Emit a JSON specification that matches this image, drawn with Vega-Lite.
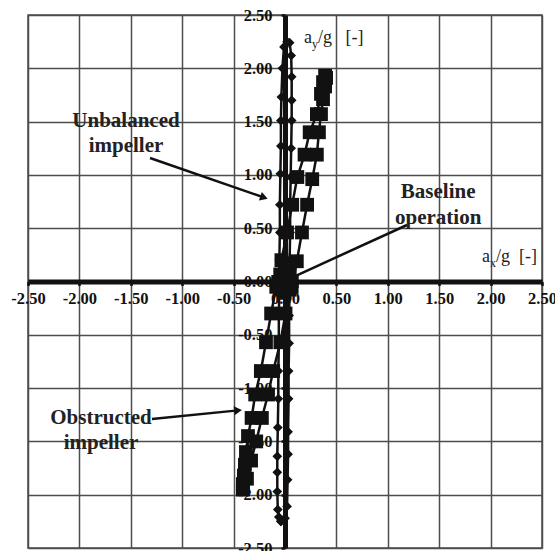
{
  "$schema": "https://vega.github.io/schema/vega-lite/v6.json",
  "width": 514,
  "height": 533,
  "autosize": {"type": "none"},
  "padding": {"left": 28, "top": 15, "right": 13, "bottom": 3},
  "background": "white",
  "config": {
    "view": {"stroke": "#4d4d4d", "strokeWidth": 1.5},
    "axis": {
      "labelFont": "Liberation Serif",
      "labelFontWeight": "bold",
      "labelFontSize": 16.5,
      "labelColor": "#111111",
      "tickColor": "#111111",
      "tickSize": 4,
      "tickWidth": 2.5,
      "domainColor": "#111111",
      "domainWidth": 5,
      "gridColor": "#4d4d4d",
      "gridWidth": 1.5,
      "gridOpacity": 1,
      "labelFlush": false,
      "labelOverlap": false,
      "labelBound": false,
      "title": null
    }
  },
  "datasets": {
    "unbal": [
      {"k":1,"x":-0.04,"y":-2.25},{"k":2,"x":0.0,"y":-2.22},{"k":3,"x":0.02,"y":-2.11},{"k":4,"x":0.025,"y":-1.86},
      {"k":5,"x":0.03,"y":-1.62},{"k":6,"x":0.03,"y":-1.41},{"k":7,"x":0.035,"y":-1.1},{"k":8,"x":0.035,"y":-0.84},
      {"k":9,"x":0.04,"y":-0.58},{"k":10,"x":0.04,"y":-0.32},{"k":11,"x":0.045,"y":-0.06},{"k":12,"x":0.045,"y":0.2},
      {"k":13,"x":0.05,"y":0.46},{"k":14,"x":0.05,"y":0.72},{"k":15,"x":0.055,"y":0.98},{"k":16,"x":0.06,"y":1.25},
      {"k":17,"x":0.065,"y":1.51},{"k":18,"x":0.065,"y":1.7},{"k":19,"x":0.065,"y":1.92},{"k":20,"x":0.06,"y":2.12},
      {"k":21,"x":0.045,"y":2.24},{"k":22,"x":0.02,"y":2.25},{"k":23,"x":-0.01,"y":2.2},{"k":24,"x":-0.025,"y":2.0},
      {"k":25,"x":-0.035,"y":1.73},{"k":26,"x":-0.04,"y":1.51},{"k":27,"x":-0.04,"y":1.27},{"k":28,"x":-0.045,"y":1.01},
      {"k":29,"x":-0.05,"y":0.72},{"k":30,"x":-0.05,"y":0.46},{"k":31,"x":-0.055,"y":0.2},{"k":32,"x":-0.055,"y":-0.06},
      {"k":33,"x":-0.06,"y":-0.32},{"k":34,"x":-0.06,"y":-0.58},{"k":35,"x":-0.065,"y":-0.84},{"k":36,"x":-0.065,"y":-1.1},
      {"k":37,"x":-0.07,"y":-1.37},{"k":38,"x":-0.075,"y":-1.64},{"k":39,"x":-0.075,"y":-1.79},{"k":40,"x":-0.075,"y":-1.97},
      {"k":41,"x":-0.07,"y":-2.14},{"k":42,"x":-0.06,"y":-2.21},{"k":43,"x":-0.04,"y":-2.25}
    ],
    "obst": [
      {"k":1,"x":-0.41,"y":-1.95},{"k":2,"x":-0.37,"y":-1.85},{"k":3,"x":-0.33,"y":-1.68},{"k":4,"x":-0.28,"y":-1.5},
      {"k":5,"x":-0.225,"y":-1.28},{"k":6,"x":-0.165,"y":-1.06},{"k":7,"x":-0.115,"y":-0.84},{"k":8,"x":-0.045,"y":-0.57},
      {"k":9,"x":0.005,"y":-0.3},{"k":10,"x":0.065,"y":-0.05},{"k":11,"x":0.115,"y":0.19},{"k":12,"x":0.165,"y":0.46},
      {"k":13,"x":0.215,"y":0.72},{"k":14,"x":0.265,"y":0.96},{"k":15,"x":0.31,"y":1.19},{"k":16,"x":0.33,"y":1.4},
      {"k":17,"x":0.35,"y":1.57},{"k":18,"x":0.37,"y":1.71},{"k":19,"x":0.39,"y":1.83},{"k":20,"x":0.4,"y":1.91},
      {"k":21,"x":0.39,"y":1.93},{"k":22,"x":0.37,"y":1.87},{"k":23,"x":0.35,"y":1.76},{"k":24,"x":0.31,"y":1.57},
      {"k":25,"x":0.24,"y":1.4},{"k":26,"x":0.19,"y":1.19},{"k":27,"x":0.12,"y":0.98},{"k":28,"x":0.07,"y":0.72},
      {"k":29,"x":0.02,"y":0.46},{"k":30,"x":-0.035,"y":0.2},{"k":31,"x":-0.085,"y":-0.05},{"k":32,"x":-0.135,"y":-0.3},
      {"k":33,"x":-0.185,"y":-0.57},{"k":34,"x":-0.235,"y":-0.84},{"k":35,"x":-0.29,"y":-1.06},{"k":36,"x":-0.325,"y":-1.28},
      {"k":37,"x":-0.36,"y":-1.45},{"k":38,"x":-0.38,"y":-1.6},{"k":39,"x":-0.39,"y":-1.72},{"k":40,"x":-0.4,"y":-1.82},
      {"k":41,"x":-0.41,"y":-1.9},{"k":42,"x":-0.41,"y":-1.95}
    ],
    "base": [
      {"k":1,"x":0.0,"y":0.1},{"k":2,"x":0.05,"y":0.07},{"k":3,"x":0.07,"y":0.0},{"k":4,"x":0.05,"y":-0.08},
      {"k":5,"x":0.0,"y":-0.11},{"k":6,"x":-0.05,"y":-0.08},{"k":7,"x":-0.07,"y":0.0},{"k":8,"x":-0.05,"y":0.07},
      {"k":9,"x":0.0,"y":0.1}
    ],
    "notes": [
      {"x":-1.547,"y":1.506,"t":"Unbalanced"},{"x":-1.547,"y":1.27,"t":"impeller"},
      {"x":1.49,"y":0.84,"t":"Baseline"},{"x":1.49,"y":0.6,"t":"operation"},
      {"x":-1.79,"y":-1.28,"t":"Obstructed"},{"x":-1.79,"y":-1.515,"t":"impeller"}
    ],
    "titleA": [{"x":1.916,"y":0.23,"t":"a"},{"x":0.185,"y":2.284,"t":"a"}],
    "titleSub": [{"x":1.916,"y":0.23,"t":"x"},{"x":0.185,"y":2.284,"t":"y"}],
    "titleRest": [{"x":1.916,"y":0.23,"t":"/g\u00a0\u00a0[-]"},{"x":0.185,"y":2.284,"t":"/g\u00a0\u00a0\u00a0[-]"}],
    "arrows": [
      {"x":-1.313,"y":1.159,"x2":-0.204,"y2":0.788},
      {"x":1.187,"y":0.53,"x2":0.078,"y2":0.042},
      {"x":-1.294,"y":-1.29,"x2":-0.457,"y2":-1.209}
    ],
    "head1": [{"x":-0.204,"y":0.788}],
    "head3": [{"x":-0.457,"y":-1.209}]
  },
  "encoding": {
    "x": {
      "field": "x", "type": "quantitative",
      "scale": {"domain": [-2.5, 2.5], "nice": false, "zero": false},
      "axis": {"orient": "bottom", "offset": -266.5, "values": [-2.5,-2,-1.5,-1,-0.5,0,0.5,1,1.5,2,2.5], "labelExpr": "replace(format(datum.value, '.2f'), '\u2212', '-')", "labelPadding": 5, "grid": true}
    },
    "y": {
      "field": "y", "type": "quantitative",
      "scale": {"domain": [-2.5, 2.5], "nice": false, "zero": false},
      "axis": {"orient": "left", "offset": -257, "values": [-2.5,-2,-1.5,-1,-0.5,0,0.5,1,1.5,2,2.5], "labelExpr": "replace(format(datum.value, '.2f'), '\u2212', '-')", "labelPadding": 9, "grid": true}
    }
  },
  "layer": [
    {"data": {"name": "unbal"}, "mark": {"type": "line", "color": "#111111", "strokeWidth": 2.5}, "encoding": {"order": {"field": "k", "type": "quantitative"}}},
    {"data": {"name": "unbal"}, "mark": {"type": "point", "shape": "diamond", "filled": true, "color": "#111111", "opacity": 1, "size": 95}},
    {"data": {"name": "obst"}, "mark": {"type": "line", "color": "#111111", "strokeWidth": 2.5}, "encoding": {"order": {"field": "k", "type": "quantitative"}}},
    {"data": {"name": "obst"}, "mark": {"type": "point", "shape": "square", "filled": true, "color": "#111111", "opacity": 1, "size": 190}},
    {"data": {"name": "base"}, "mark": {"type": "line", "color": "#111111", "strokeWidth": 2.5}, "encoding": {"order": {"field": "k", "type": "quantitative"}}},
    {"data": {"name": "base"}, "mark": {"type": "point", "shape": "square", "filled": true, "color": "#111111", "opacity": 1, "size": 170}},
    {"data": {"name": "arrows"}, "mark": {"type": "rule", "color": "#111111", "strokeWidth": 2.5}, "encoding": {"x2": {"field": "x2"}, "y2": {"field": "y2"}}},
    {"data": {"name": "head1"}, "mark": {"type": "point", "shape": "triangle-right", "filled": true, "color": "#111111", "opacity": 1, "size": 80, "angle": 19}},
    {"data": {"name": "head3"}, "mark": {"type": "point", "shape": "triangle-right", "filled": true, "color": "#111111", "opacity": 1, "size": 80, "angle": 354}},
    {"data": {"name": "notes"}, "mark": {"type": "text", "font": "Liberation Serif", "fontWeight": "bold", "fontSize": 21, "color": "#222222", "align": "center", "baseline": "middle"}, "encoding": {"text": {"field": "t"}}},
    {"data": {"name": "titleA"}, "mark": {"type": "text", "font": "Liberation Serif", "fontSize": 18, "color": "#222222", "align": "left", "baseline": "middle"}, "encoding": {"text": {"field": "t"}}},
    {"data": {"name": "titleSub"}, "mark": {"type": "text", "font": "Liberation Serif", "fontSize": 12, "color": "#222222", "align": "left", "baseline": "middle", "dx": 8, "dy": 6}, "encoding": {"text": {"field": "t"}}},
    {"data": {"name": "titleRest"}, "mark": {"type": "text", "font": "Liberation Serif", "fontSize": 18, "color": "#222222", "align": "left", "baseline": "middle", "dx": 14}, "encoding": {"text": {"field": "t"}}}
  ]
}
